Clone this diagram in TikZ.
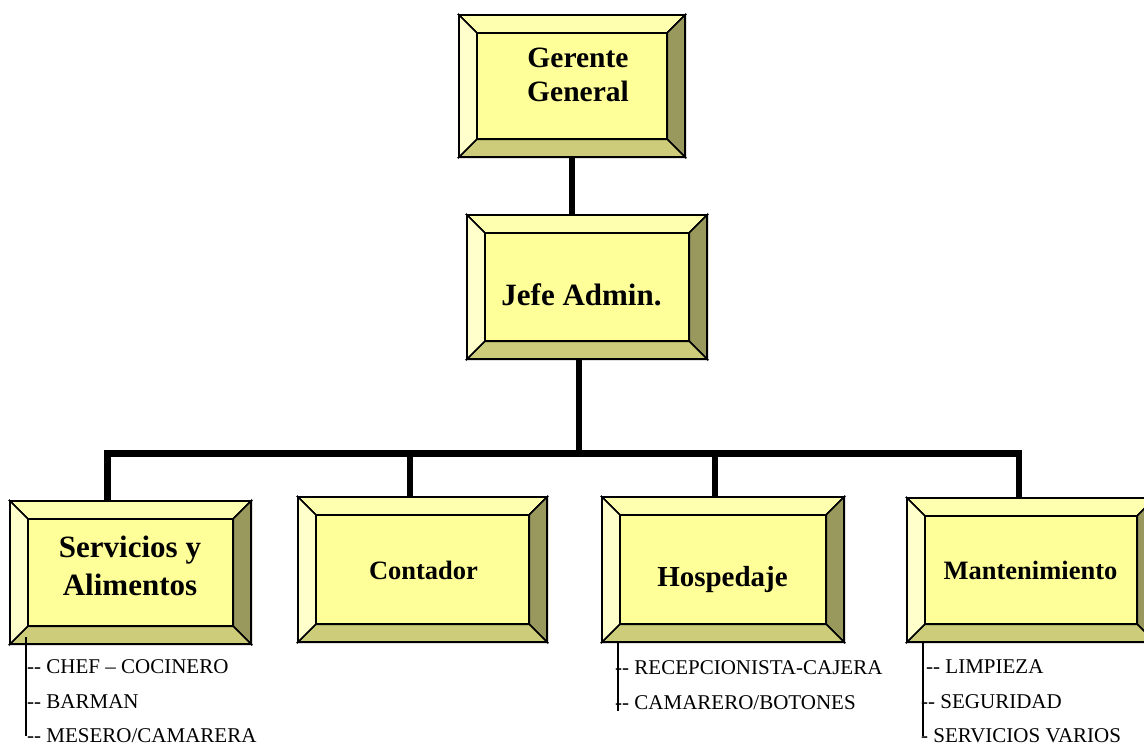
\documentclass[tikz,border=0pt]{standalone}
\usepackage{fontspec}
\setmainfont{Liberation Serif}
\usetikzlibrary{calc}
\definecolor{bface}{HTML}{FFFF99}
\definecolor{btop}{HTML}{FFFFB0}
\definecolor{bleft}{HTML}{FFFFCC}
\definecolor{bbot}{HTML}{CCCC7A}
\definecolor{bright}{HTML}{99995E}
\tikzset{
  bframe/.style={rectangle, inner sep=0pt, draw=none},
  bevel/.style={draw=black, line width=1.6pt, line join=miter},
  outerline/.style={draw=black, line width=2pt},
  conn/.style={draw=black, line width=6.8pt, line join=miter},
  subline/.style={draw=black, line width=1.8pt},
  title/.style={inner sep=0pt, align=center, text=black},
  item/.style={inner sep=0pt, anchor=base west, font=\fontsize{21}{25}\selectfont}
}
\newcommand\bevbox[5]{%
  \node[bframe, minimum width=#4pt, minimum height=#5pt] (#1) at (#2,#3) {};
  \coordinate (#1-a) at ($(#1.north west)+(18pt,-18pt)$);
  \coordinate (#1-b) at ($(#1.north east)+(-18pt,-18pt)$);
  \coordinate (#1-c) at ($(#1.south east)+(-18pt,18pt)$);
  \coordinate (#1-d) at ($(#1.south west)+(18pt,18pt)$);
  \filldraw[bevel, fill=btop] (#1.north west) -- (#1.north east) -- (#1-b) -- (#1-a) -- cycle;
  \filldraw[bevel, fill=bright] (#1.north east) -- (#1.south east) -- (#1-c) -- (#1-b) -- cycle;
  \filldraw[bevel, fill=bbot] (#1.south east) -- (#1.south west) -- (#1-d) -- (#1-c) -- cycle;
  \filldraw[bevel, fill=bleft] (#1.south west) -- (#1.north west) -- (#1-a) -- (#1-d) -- cycle;
  \filldraw[bevel, fill=bface] (#1-a) rectangle (#1-c);
  \draw[outerline] (#1.north west) rectangle (#1.south east);
}
\begin{document}
\begin{tikzpicture}[x=1pt,y=-1pt]
\clip (0,0) rectangle (1144,747);
\fill[white] (0,0) rectangle (1144,747);

% boxes
\bevbox{g}{572}{86}{226}{142}
\bevbox{j}{587}{287}{240}{144}
\bevbox{s}{130.5}{572.5}{241}{143}
\bevbox{c}{422.5}{569.5}{249}{145}
\bevbox{h}{723}{569.5}{242}{145}
\bevbox{m}{1031}{570}{248}{144}

% titles
\node[title, font=\fontsize{29.5}{34}\selectfont\bfseries] (g-t) at (578,74.5) {Gerente\\General};
\node[title, anchor=base, font=\fontsize{31}{36}\selectfont\bfseries] (j-t) at (581.5,305) {Jefe Admin.};
\node[title, font=\fontsize{31}{38}\selectfont\bfseries] (s-t) at (130,565.5) {Servicios y\\Alimentos};
\node[title, anchor=base, font=\fontsize{26.5}{30}\selectfont\bfseries] (c-t) at (423.5,579) {Contador};
\node[title, anchor=base, font=\fontsize{29}{34}\selectfont\bfseries] (h-t) at (722.5,586) {Hospedaje};
\node[title, anchor=base, font=\fontsize{26.5}{30}\selectfont\bfseries] (m-t) at (1030.5,579) {Mantenimiento};

% connectors
\draw[conn] (g.south) -- (g.south |- j.north);
\coordinate (busJ) at (579,453.5);
\coordinate (busL) at (107.5,453.5);
\coordinate (busR) at (1019,453.5);
\coordinate (busC) at (410,453.5);
\coordinate (busH) at (715,453.5);
\draw[conn] (busJ |- j.south) -- (busJ);
\draw[conn] (busL |- s.north) -- (busL) -- (busR) -- (busR |- m.north);
\draw[conn] (busC) -- (busC |- c.north);
\draw[conn] (busH) -- (busH |- h.north);

% sub lists
\coordinate (sl1) at (26,637);
\coordinate (sl2) at (26,736);
\draw[subline] (sl1) -- (sl2);
\node[item] (s1) at (27,673) {-{}- CHEF – COCINERO};
\node[item] (s2) at (27,708) {-{}- BARMAN};
\node[item] (s3) at (27,742) {-{}- MESERO/CAMARERA};

\coordinate (hl1) at (618,642);
\coordinate (hl2) at (618,711);
\draw[subline] (hl1) -- (hl2);
\node[item] (h1) at (615,674) {-{}- RECEPCIONISTA-CAJERA};
\node[item] (h2) at (615,709) {-{}- CAMARERO/BOTONES};

\coordinate (ml1) at (923,642);
\coordinate (ml2) at (923,736);
\draw[subline] (ml1) -- (ml2);
\node[item] (m1) at (926,673) {-{}- LIMPIEZA};
\node[item] (m2) at (921,708) {-{}- SEGURIDAD};
\node[item] (m3) at (921,742) {- SERVICIOS VARIOS};
\end{tikzpicture}
\end{document}
